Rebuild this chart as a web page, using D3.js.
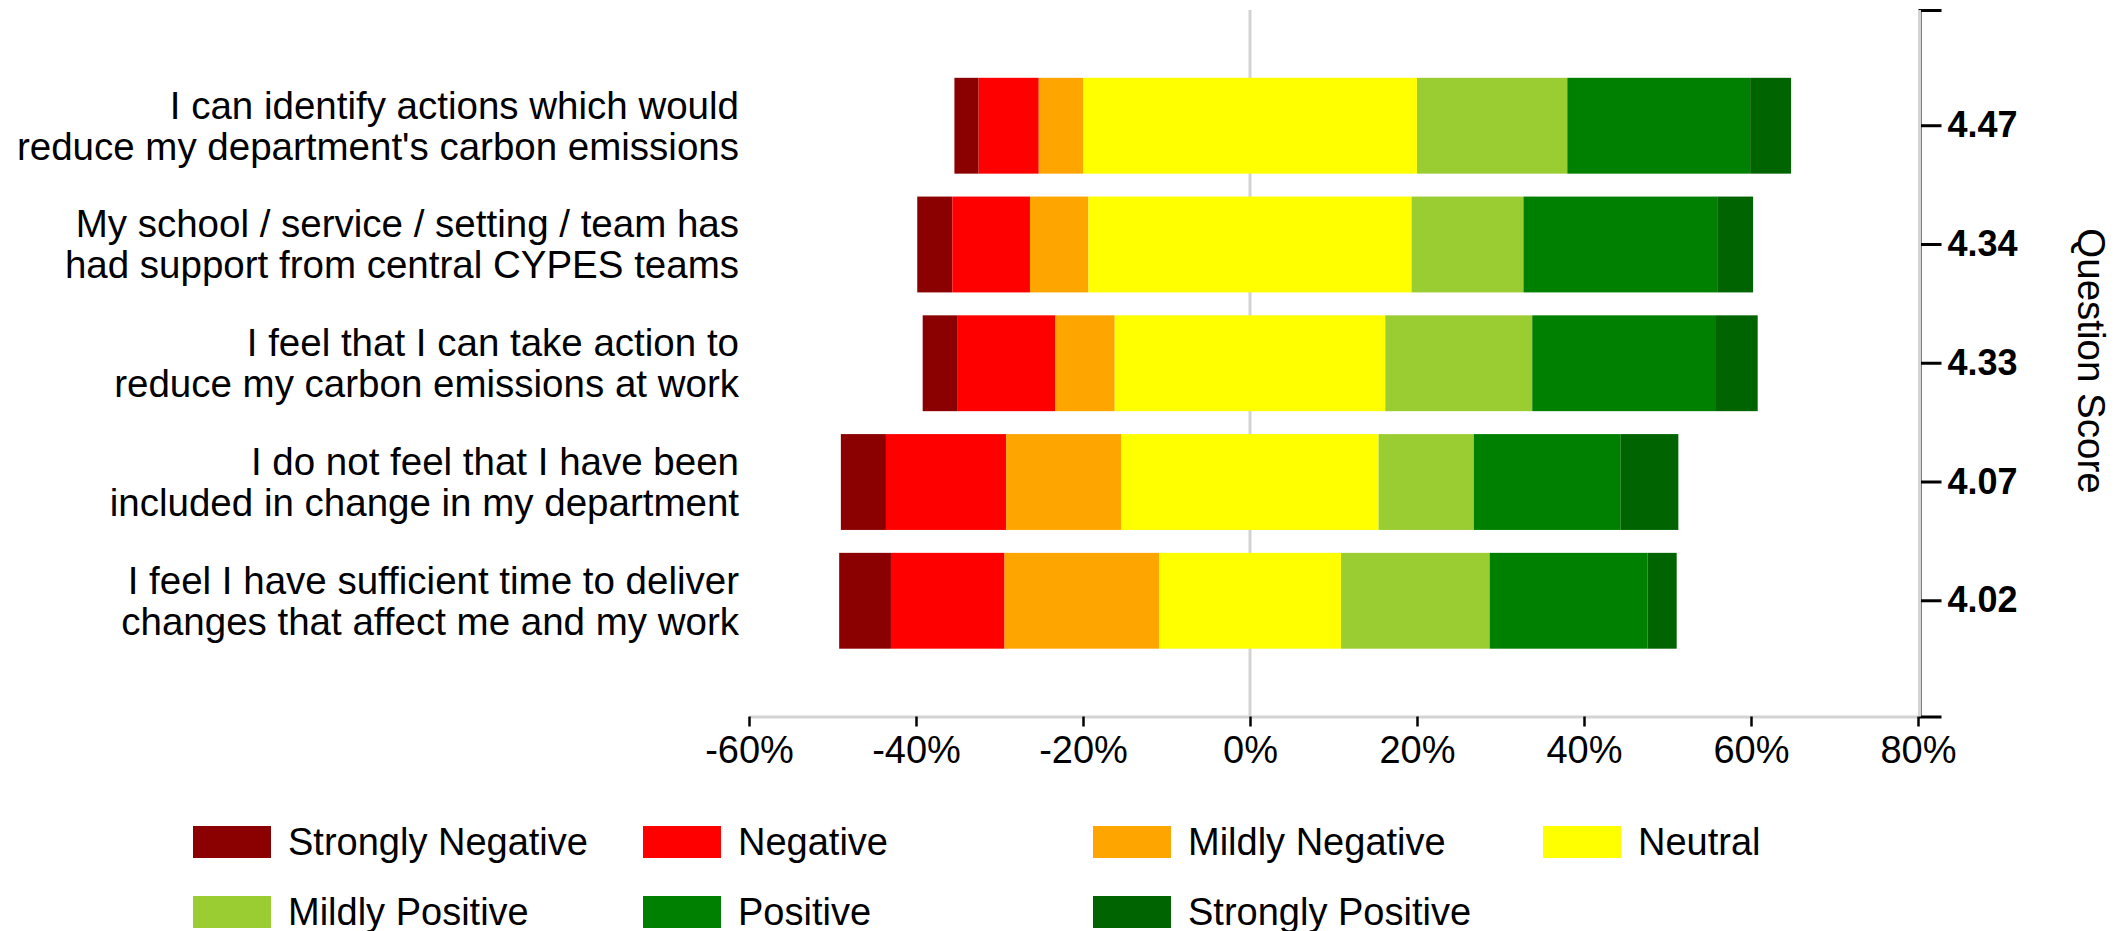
<!DOCTYPE html>
<html>
<head>
<meta charset="utf-8">
<script src="https://cdn.jsdelivr.net/npm/d3@7"></script>
<style>
  html, body { margin: 0; padding: 0; background: #fff; }
  svg { display: block; font-family: "Liberation Sans", Arial, sans-serif; }
</style>
</head>
<body>
<svg id="chart" width="2128" height="931"></svg>
<script>
// Survey statements (two lines each) and their mean question scores
const categories = [
  ["I can identify actions which would", "reduce my department's carbon emissions"],
  ["My school / service / setting / team has", "had support from central CYPES teams"],
  ["I feel that I can take action to", "reduce my carbon emissions at work"],
  ["I do not feel that I have been", "included in change in my department"],
  ["I feel I have sufficient time to deliver", "changes that affect me and my work"]
];
const scoreLabels = ["4.47", "4.34", "4.33", "4.07", "4.02"];

// Share of responses (%) per level, one entry per statement
const stronglyNegative = [2.9, 4.2, 4.2, 5.4, 6.2];
const negative         = [7.2, 9.3, 11.7, 14.4, 13.6];
const mildlyNegative   = [5.3, 7.0, 7.1, 13.8, 18.5];
const neutral          = [40.0, 38.7, 32.4, 30.8, 21.8];
const mildlyPositive   = [18.0, 13.4, 17.6, 11.4, 17.8];
const positive         = [21.9, 23.2, 21.9, 17.6, 18.9];
const stronglyPositive = [4.9, 4.3, 5.1, 6.9, 3.5];

const levelNames = ["Strongly Negative", "Negative", "Mildly Negative", "Neutral",
                    "Mildly Positive", "Positive", "Strongly Positive"];
const levelColors = ["#8b0000", "#ff0000", "#ffa500", "#ffff00",
                     "#9acd32", "#008000", "#006400"];
const xTicks = [-60, -40, -20, 0, 20, 40, 60, 80];

const levels = [stronglyNegative, negative, mildlyNegative, neutral,
                mildlyPositive, positive, stronglyPositive];

// Diverging layout: neutral is split across zero, negatives to the left
const segments = [];
categories.forEach((cat, i) => {
  const negSum = stronglyNegative[i] + negative[i] + mildlyNegative[i] + neutral[i] / 2;
  let start = -negSum;
  levels.forEach((arr, k) => {
    segments.push({ row: i, level: k, x0: start, x1: start + arr[i] });
    start += arr[i];
  });
});

const svg = d3.select("#chart");

const x = d3.scaleLinear().domain([-60, 80]).range([749, 1918]);
const y = d3.scaleBand().domain(d3.range(categories.length))
  .range([10, 716.5]).paddingInner(0.193).paddingOuter(0.571);

// Zero reference line
svg.append("line")
  .attr("x1", x(0)).attr("x2", x(0))
  .attr("y1", 10).attr("y2", 716.5)
  .attr("stroke", "#d3d3d3").attr("stroke-width", 3);

// Bar segments
svg.append("g").selectAll("rect").data(segments).join("rect")
  .attr("x", d => x(d.x0))
  .attr("width", d => x(d.x1) - x(d.x0))
  .attr("y", d => y(d.row))
  .attr("height", y.bandwidth())
  .attr("fill", d => levelColors[d.level]);

// Bottom percentage axis
const xAxis = svg.append("g")
  .attr("transform", "translate(0,716.5)")
  .call(d3.axisBottom(x).tickValues(xTicks).tickFormat(d => d + "%")
        .tickSize(10).tickSizeOuter(0).tickPadding(10));
xAxis.select(".domain").attr("stroke", "#d3d3d3").attr("stroke-width", 3);
xAxis.selectAll(".tick line").attr("stroke", "#000").attr("stroke-width", 2.5);
xAxis.selectAll(".tick text").attr("font-size", 38).attr("fill", "#000")
  .attr("font-family", "Liberation Sans, Arial, sans-serif");

// Statement labels on the left
const yLabels = svg.append("g");
categories.forEach((lines, i) => {
  const cy = y(i) + y.bandwidth() / 2;
  const t = yLabels.append("text")
    .attr("text-anchor", "end")
    .attr("font-size", 38.5)
    .attr("fill", "#000");
  lines.forEach((ln, j) => {
    t.append("tspan")
      .attr("x", 739)
      .attr("y", cy + (j - 0.5) * 41)
      .attr("dominant-baseline", "central")
      .text(ln);
  });
});

// Right axis with question scores
const yScore = d3.scaleBand().domain(scoreLabels.map((s, i) => i))
  .range(y.range()).paddingInner(0.193).paddingOuter(0.571);
const rAxis = svg.append("g")
  .attr("transform", "translate(1919.5,0)")
  .call(d3.axisRight(yScore).tickFormat(i => scoreLabels[i])
        .tickSize(22).tickSizeOuter(22).tickPadding(6));
rAxis.select(".domain").attr("stroke", "#000").attr("stroke-width", 3);
rAxis.append("line")
  .attr("x1", 0).attr("x2", 0)
  .attr("y1", 10).attr("y2", 716.5)
  .attr("stroke", "#d3d3d3").attr("stroke-width", 3);
rAxis.selectAll(".tick line").attr("stroke", "#000").attr("stroke-width", 3);
rAxis.selectAll(".tick text").attr("font-size", 36).attr("font-weight", "bold")
  .attr("fill", "#000").attr("font-family", "Liberation Sans, Arial, sans-serif");

// Right axis title
svg.append("text")
  .attr("transform", "translate(2091,361) rotate(90)")
  .attr("text-anchor", "middle")
  .attr("dominant-baseline", "central")
  .attr("font-size", 38.5)
  .attr("fill", "#000")
  .text("Question Score");

// Legend: four columns, two rows
const legend = svg.append("g");
levelNames.forEach((name, k) => {
  const col = k % 4, row = Math.floor(k / 4);
  const lx = 193 + col * 450, ly = 826 + row * 70;
  legend.append("rect")
    .attr("x", lx).attr("y", ly)
    .attr("width", 78).attr("height", 32)
    .attr("fill", levelColors[k]);
  legend.append("text")
    .attr("x", lx + 95).attr("y", ly + 16)
    .attr("dominant-baseline", "central")
    .attr("font-size", 38)
    .attr("fill", "#000")
    .text(name);
});
</script>
</body>
</html>
